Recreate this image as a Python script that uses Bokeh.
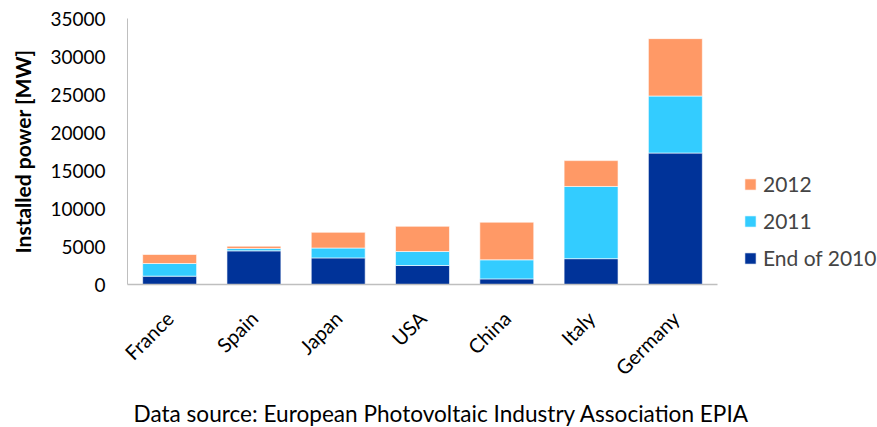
from bokeh.plotting import figure
from bokeh.models import FactorRange, Range1d, Legend, LegendItem, Title, ColumnDataSource
from bokeh.embed import file_html
from bokeh.resources import INLINE
import math

countries = ["France", "Spain", "Japan", "USA", "China", "Italy", "Germany"]
end_2010 = [1100, 4430, 3500, 2500, 740, 3400, 17300]
add_2011 = [1660, 310, 1300, 1840, 2510, 9500, 7500]
add_2012 = [1190, 300, 2070, 3320, 4950, 3400, 7550]
series = ["End of 2010", "2011", "2012"]
colors = ["#003399", "#33CCFF", "#FF9966"]
y_ticks = list(range(0, 35001, 5000))

FONT = "Lato"

src = ColumnDataSource(dict(country=countries, e2010=end_2010, a2011=add_2011, a2012=add_2012))

p = figure(x_range=FactorRange(*countries, range_padding=0), y_range=Range1d(0, 35000),
           frame_width=590, frame_height=266, output_backend="svg", toolbar_location=None,
           min_border_left=127, min_border_right=160, min_border_top=18, min_border_bottom=140)

rs = p.vbar_stack(["e2010", "a2011", "a2012"], x="country", width=0.64, color=colors,
                  source=src, line_color="white", line_width=1, line_alpha=0.6)

p.xgrid.grid_line_color = None
p.ygrid.grid_line_color = None
p.outline_line_color = None

p.yaxis.ticker = y_ticks
p.yaxis.axis_line_color = "#BFBFBF"
p.xaxis.axis_line_color = "#BFBFBF"
p.xaxis.axis_line_width = 1.5
for ax in (p.xaxis, p.yaxis):
    ax.major_tick_line_color = None
    ax.minor_tick_line_color = None
    ax.major_tick_in = 0
    ax.major_tick_out = 0
    ax.major_label_text_font = FONT
    ax.major_label_text_color = "#000000"
p.yaxis.major_label_text_font_size = "19px"
p.xaxis.major_label_text_font_size = "20px"
p.yaxis.major_label_standoff = 22
p.xaxis.major_label_standoff = 30
p.xaxis.major_label_orientation = math.pi / 4
p.yaxis.axis_label = "Installed power [MW]"
p.yaxis.axis_label_text_font = FONT
p.yaxis.axis_label_text_font_size = "21px"
p.yaxis.axis_label_text_font_style = "bold"
p.yaxis.axis_label_text_color = "#000000"
p.yaxis.axis_label_standoff = 12

items = [LegendItem(label=series[i], renderers=[rs[i]]) for i in (2, 1, 0)]
legend = Legend(items=items, location=(26, 14), padding=0, margin=0, border_line_color=None,
                background_fill_alpha=0, glyph_width=14, glyph_height=14, label_height=20,
                spacing=12, label_standoff=6, label_text_font=FONT, label_text_font_size="21px")
p.add_layout(legend, "right")

note = Title(text="Data source: European Photovoltaic Industry Association EPIA",
             align="left", offset=6, standoff=15, text_font=FONT, text_font_size="22.6px",
             text_font_style="normal", text_color="#000000")
p.add_layout(note, "below")

open("out.html", "w").write(file_html(p, INLINE))
